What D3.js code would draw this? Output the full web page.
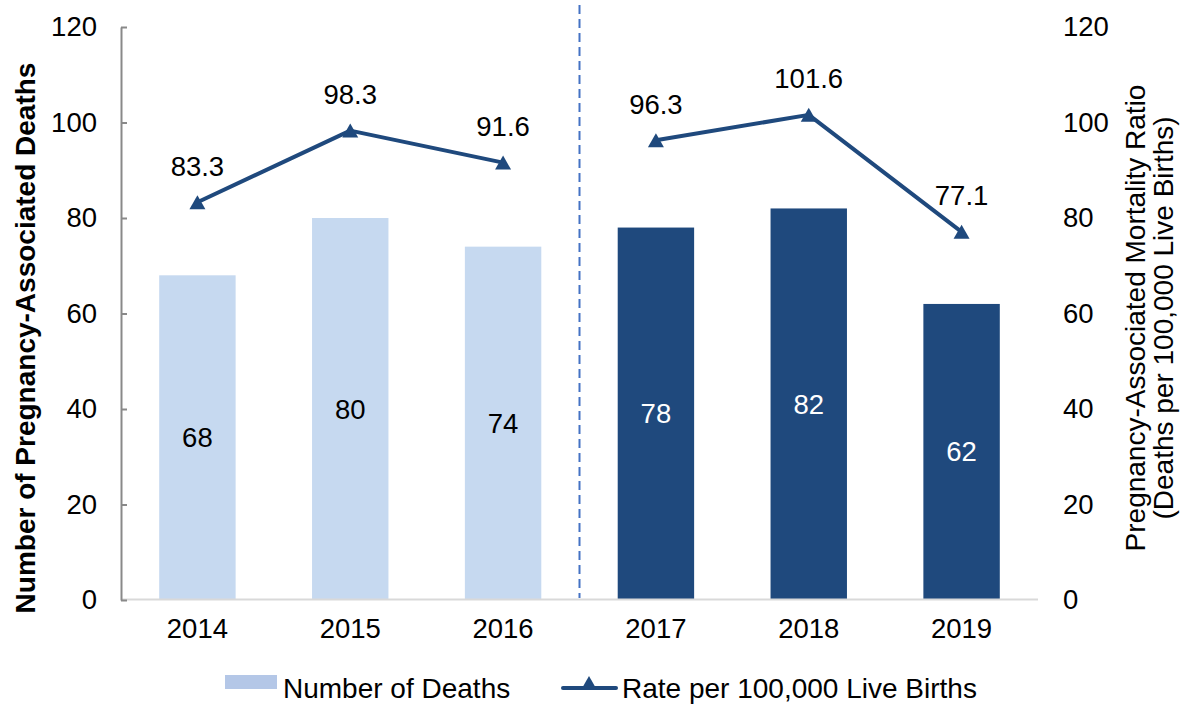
<!DOCTYPE html>
<html>
<head>
<meta charset="utf-8">
<script src="https://cdn.jsdelivr.net/npm/d3@7"></script>
<style>
  body { margin: 0; background: #fff; }
  svg text { font-family: "Liberation Sans", Arial, sans-serif; fill: #000; }
</style>
</head>
<body>
<div class="chart-area"></div>
<script>
var years = ["2014", "2015", "2016", "2017", "2018", "2019"];
var deaths = [68, 80, 74, 78, 82, 62];
var rates = [83.3, 98.3, 91.6, 96.3, 101.6, 77.1];
var yTicks = [0, 20, 40, 60, 80, 100, 120];

var lightBlue = "#c6d9f0";
var darkBlue = "#1f497d";
var fs = "27.5px";

var svg = d3.select(".chart-area")
    .append("svg")
    .attr("width", 1186)
    .attr("height", 704);

var x = d3.scaleBand()
    .domain(years)
    .range([121, 1038])
    .paddingInner(0.5)
    .paddingOuter(0.25);

var yLeft = d3.scaleLinear().domain([0, 120]).range([600, 27]);
var yRight = d3.scaleLinear().domain([0, 120]).range([600, 27]);

// bars
svg.selectAll("rect.bar")
    .data(deaths)
    .enter().append("rect")
    .attr("class", "bar")
    .attr("x", function(d, i) { return x(years[i]); })
    .attr("y", function(d) { return yLeft(d); })
    .attr("width", x.bandwidth())
    .attr("height", function(d) { return yLeft(0) - yLeft(d); })
    .attr("fill", function(d, i) { return i < 3 ? lightBlue : darkBlue; });

svg.selectAll("text.barlabel")
    .data(deaths)
    .enter().append("text")
    .attr("class", "barlabel")
    .attr("x", function(d, i) { return x(years[i]) + x.bandwidth() / 2; })
    .attr("y", function(d) { return (yLeft(d) + yLeft(0)) / 2; })
    .attr("text-anchor", "middle")
    .attr("dominant-baseline", "central")
    .style("font-size", fs)
    .style("fill", function(d, i) { return i < 3 ? "#000" : "#fff"; })
    .text(function(d) { return d; });

// x axis line
svg.append("line")
    .attr("x1", 121).attr("x2", 1038)
    .attr("y1", 599.5).attr("y2", 599.5)
    .attr("stroke", "#d9d9d9")
    .attr("stroke-width", 2);

// dashed divider between 2016 and 2017
var divX = (x("2016") + x.bandwidth() + x("2017")) / 2;
svg.append("line")
    .attr("x1", divX).attr("x2", divX)
    .attr("y1", 5).attr("y2", 598)
    .attr("stroke", "#4472c4")
    .attr("stroke-width", 2)
    .attr("stroke-dasharray", "9,5");

// left axis
var leftAxis = svg.append("g")
    .attr("transform", "translate(121,0)")
    .call(d3.axisLeft(yLeft).tickValues(yTicks).tickSizeInner(-6).tickSizeOuter(0).tickPadding(24));
leftAxis.select(".domain").attr("stroke", "#898989").attr("stroke-width", 2);
leftAxis.selectAll(".tick line").attr("stroke", "#898989").attr("stroke-width", 2);
leftAxis.selectAll(".tick text").style("font-size", fs).attr("fill", "#000")
    .style("font-family", "Liberation Sans, Arial, sans-serif");

// right axis (labels only)
var rightAxis = svg.append("g")
    .attr("transform", "translate(1038,0)")
    .call(d3.axisRight(yRight).tickValues(yTicks).tickSize(0).tickPadding(25));
rightAxis.select(".domain").remove();
rightAxis.selectAll(".tick text").style("font-size", fs).attr("fill", "#000")
    .style("font-family", "Liberation Sans, Arial, sans-serif");

// bottom axis labels
var bottomAxis = svg.append("g")
    .attr("transform", "translate(0,600)")
    .call(d3.axisBottom(x).tickSize(0).tickPadding(18));
bottomAxis.select(".domain").remove();
bottomAxis.selectAll(".tick text").style("font-size", fs).attr("fill", "#000")
    .style("font-family", "Liberation Sans, Arial, sans-serif");

// rate line, split at the divider
var line = d3.line()
    .x(function(d) { return x(d.year) + x.bandwidth() / 2; })
    .y(function(d) { return yRight(d.rate); });

var ratePoints = rates.map(function(r, i) { return { year: years[i], rate: r }; });

[ratePoints.slice(0, 3), ratePoints.slice(3)].forEach(function(seg) {
    svg.append("path")
        .datum(seg)
        .attr("d", line)
        .attr("fill", "none")
        .attr("stroke", darkBlue)
        .attr("stroke-width", 4)
        .attr("stroke-linejoin", "round");
});

var triangle = "M0,-7L8,7L-8,7Z";

svg.selectAll("path.marker")
    .data(ratePoints)
    .enter().append("path")
    .attr("class", "marker")
    .attr("d", triangle)
    .attr("transform", function(d) {
        return "translate(" + (x(d.year) + x.bandwidth() / 2) + "," + yRight(d.rate) + ")";
    })
    .attr("fill", darkBlue);

svg.selectAll("text.ratelabel")
    .data(ratePoints)
    .enter().append("text")
    .attr("class", "ratelabel")
    .attr("x", function(d) { return x(d.year) + x.bandwidth() / 2; })
    .attr("y", function(d) { return yRight(d.rate) - 36; })
    .attr("text-anchor", "middle")
    .attr("dominant-baseline", "central")
    .style("font-size", fs)
    .text(function(d) { return d.rate.toFixed(1); });

// axis titles
svg.append("text")
    .attr("transform", "translate(25,338) rotate(-90)")
    .attr("text-anchor", "middle")
    .attr("dominant-baseline", "central")
    .style("font-size", "28px")
    .style("font-weight", "bold")
    .text("Number of Pregnancy-Associated Deaths");

svg.append("text")
    .attr("transform", "translate(1135,318) rotate(-90)")
    .attr("text-anchor", "middle")
    .attr("dominant-baseline", "central")
    .style("font-size", "28px")
    .text("Pregnancy-Associated Mortality Ratio");

svg.append("text")
    .attr("transform", "translate(1163,318) rotate(-90)")
    .attr("text-anchor", "middle")
    .attr("dominant-baseline", "central")
    .style("font-size", "28px")
    .text("(Deaths per 100,000 Live Births)");

// legend
var legend = svg.append("g");
legend.append("rect")
    .attr("x", 225).attr("y", 675)
    .attr("width", 52).attr("height", 14)
    .attr("fill", "#b4c7e7");
legend.append("text")
    .attr("x", 283).attr("y", 688)
    .attr("dominant-baseline", "central")
    .style("font-size", "28px")
    .text("Number of Deaths");
legend.append("line")
    .attr("x1", 563).attr("x2", 616)
    .attr("y1", 688).attr("y2", 688)
    .attr("stroke", darkBlue)
    .attr("stroke-width", 4)
    .attr("stroke-linecap", "round");
legend.append("path")
    .attr("d", triangle)
    .attr("transform", "translate(589,683)")
    .attr("fill", darkBlue);
legend.append("text")
    .attr("x", 622).attr("y", 688)
    .attr("dominant-baseline", "central")
    .style("font-size", "28px")
    .text("Rate per 100,000 Live Births");
</script>
</body>
</html>
